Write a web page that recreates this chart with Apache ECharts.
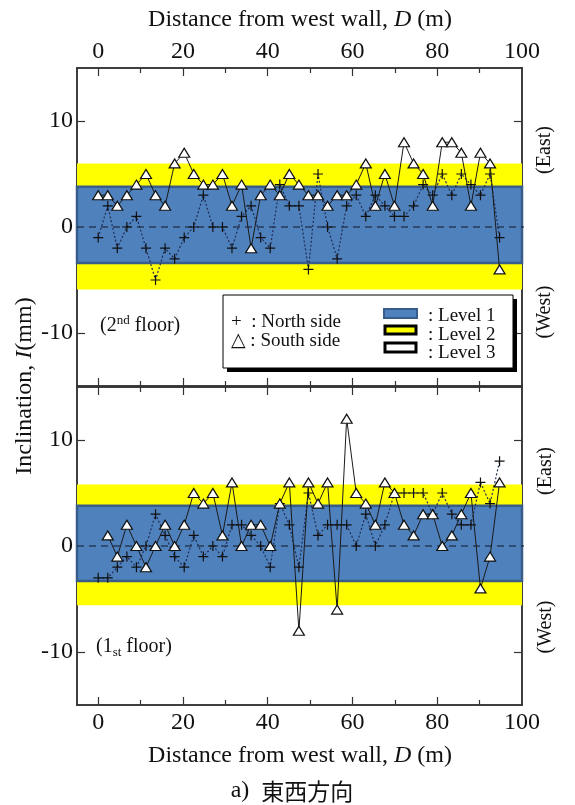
<!DOCTYPE html>
<html><head><meta charset="utf-8">
<script src="https://cdn.jsdelivr.net/npm/echarts@6/dist/echarts.min.js"></script>
<style>html,body{margin:0;padding:0;background:#fff}#c{width:575px;height:805px}</style>
</head><body><div id="c"></div>
<script>
// Distance from west wall D (m) of each measuring point
const distance = [0, 2.26, 4.51, 6.77, 9.02, 11.28, 13.53, 15.79, 18.04, 20.30, 22.55, 24.81, 27.06, 29.32,
  31.57, 33.83, 36.08, 38.34, 40.59, 42.85, 45.10, 47.36, 49.61, 51.87, 54.12, 56.38, 58.63, 60.89, 63.14,
  65.40, 67.65, 69.91, 72.16, 74.42, 76.67, 78.93, 81.18, 83.44, 85.69, 87.95, 90.20, 92.46, 94.71];
// 2nd floor inclination I (mm)
const north2F = [-1, 2, -2, 0, 1, -2, -5, -2, -3, -1, 0, 3, 0, 0, -2, 1, 2, -1, -2, 4, 2, 2, -4, 5, 0, -3, 2, 3, 1, 3, 2, 1, 1, 2, 4, 3, 5, 3, 5, 4, 3, 5, -1];
const south2F = [3, 3, 2, 3, 4, 5, 3, 2, 6, 7, 5, 4, 4, 5, 2, 4, -2, 3, 4, 3, 5, 4, 3, 3, 2, 3, 3, 4, 6, 2, 5, 2, 8, 6, 5, 2, 8, 8, 7, 2, 7, 6, -4];
// 1st floor inclination I (mm)
const north1F = [-3, -3, -2, -1, -2, 0, 3, 1, -1, -2, 1, -1, 0, -1, 2, 2, 1, 0, -2, 4, 2, -2, 5, 1, 2, 2, 2, 0, 3, 0, 2, 5, 5, 5, 5, 3, 5, 3, 2, 2, 6, 4, 8];
const south1F = [null, 1, -1, 2, 0, -2, 0, 2, 0, 2, 5, 4, 5, 1, 6, 0, 2, 2, 0, 4, 6, -8, 6, 4, 6, -6, 12, 5, 4, 2, 6, 5, 2, 1, 3, 3, 0, 1, 3, 5, -4, -1, 6];
// Level bands [lower, upper] (mm)
const level1_2F = [-3.4, 3.8], level2_2F = [-5.9, 6.0];
const level1_1F = [-3.3, 3.8], level2_1F = [-5.6, 5.8];
// reference (zero) line, extended past the frame on the right
const zeroLine = [[-5, 0], [108.5, 0]];
// ticks
const xLabelValues = [0, 20, 40, 60, 80, 100];
const xMajorTicks = [0, 20, 40, 60, 80];
const xMinorTicks = [10, 30, 50, 70, 90];
const yLabelValues = [-10, 0, 10];
const yMajorTicks = [-10, 0, 10];
const yMinorTicks = [-5, 5];

const SERIF = "'Liberation Serif', 'Times New Roman', 'DejaVu Serif', serif";
const AX = '#333';
const chart = echarts.init(document.getElementById('c'), null, {renderer: 'canvas'});

const grids = [
  {left: 77, top: 68, width: 445, height: 318},
  {left: 77, top: 387, width: 445, height: 318}
];
const xAxes = [], yAxes = [];
function xAx(g, pos, ticks, len, labels) {
  xAxes.push({type: 'value', gridIndex: g, position: pos, min: -5, max: 100,
    axisLine: {show: true, onZero: false, lineStyle: {color: AX, width: 1.5}},
    axisTick: {show: true, inside: true, length: len, customValues: ticks, lineStyle: {color: AX, width: 1.2}},
    axisLabel: labels ? {show: true, customValues: labels, fontFamily: SERIF, fontSize: 24, color: '#111', margin: pos === 'top' ? 4 : 6} : {show: false},
    splitLine: {show: false}});
  return xAxes.length - 1;
}
function yAx(g, pos, ticks, len, labels) {
  yAxes.push({type: 'value', gridIndex: g, position: pos, min: -15, max: 15,
    axisLine: {show: true, onZero: false, lineStyle: {color: AX, width: 1.5}},
    axisTick: {show: true, inside: true, length: len, customValues: ticks, lineStyle: {color: AX, width: 1.2}},
    axisLabel: labels ? {show: true, customValues: labels, fontFamily: SERIF, fontSize: 24, color: '#111', margin: 4} : {show: false},
    splitLine: {show: false}});
  return yAxes.length - 1;
}
const panels = [
  {north: north2F, south: south2F, l1: level1_2F, l2: level2_2F, topLabels: true, bottomLabels: false},
  {north: north1F, south: south1F, l1: level1_1F, l2: level2_1F, topLabels: false, bottomLabels: true}
];
const plusPath = 'path://M4.4,0H5.6V4.4H10V5.6H5.6V10H4.4V5.6H0V4.4H4.4Z';
const series = [];
panels.forEach((p, g) => {
  const xi = xAx(g, 'top', xMajorTicks, 8, p.topLabels ? xLabelValues : null);
  xAx(g, 'top', xMinorTicks, 5, null);
  xAx(g, 'bottom', xMajorTicks, 8, p.bottomLabels ? xLabelValues : null);
  xAx(g, 'bottom', xMinorTicks, 5, null);
  const yi = yAx(g, 'left', yMajorTicks, 8, yLabelValues);
  yAx(g, 'left', yMinorTicks, 5, null);
  yAx(g, 'right', yMajorTicks, 8, null);
  yAx(g, 'right', yMinorTicks, 5, null);
  series.push({type: 'line', xAxisIndex: xi, yAxisIndex: yi, data: [], z: 1, silent: true,
    markArea: {silent: true, data: [
      [{yAxis: p.l2[0], itemStyle: {color: '#FFFF00'}}, {yAxis: p.l2[1]}],
      [{yAxis: p.l1[0], itemStyle: {color: '#4F81BD', borderColor: '#385D8A', borderWidth: 2.5}}, {yAxis: p.l1[1]}]
    ]}});
  series.push({type: 'line', xAxisIndex: xi, yAxisIndex: yi, data: zeroLine, clip: false, symbol: 'none', silent: true, z: 3,
    lineStyle: {type: [7, 5], color: '#141826', width: 1.1}});
  series.push({type: 'line', xAxisIndex: xi, yAxisIndex: yi, z: 4,
    data: distance.map((d, i) => [d, p.north[i]]).filter(v => v[1] !== null),
    symbol: plusPath, symbolSize: 10, symbolKeepAspect: true,
    itemStyle: {color: '#111'}, lineStyle: {type: [2, 2], color: '#1f2d55', width: 1.2}});
  series.push({type: 'line', xAxisIndex: xi, yAxisIndex: yi, z: 5,
    data: distance.map((d, i) => [d, p.south[i]]).filter(v => v[1] !== null),
    symbol: 'triangle', symbolSize: [11, 9],
    itemStyle: {color: '#fff', borderColor: '#111', borderWidth: 1.2}, lineStyle: {color: '#1a1a1a', width: 1}});
});

const txt = (x, y, text, size, extra) => Object.assign({type: 'text', x, y, z: 10,
  style: Object.assign({text, fontFamily: SERIF, fontSize: size, fill: '#111', align: 'center', verticalAlign: 'middle'}, extra || {})});

const graphic = [
  txt(300, 20, '{n|Distance from west wall, }{i|D}{n| (m)}', 24, {rich: {n: {fontFamily: SERIF, fontSize: 24, fill: '#111'}, i: {fontFamily: SERIF, fontSize: 24, fontStyle: 'italic', fill: '#111'}}}),
  txt(300, 756, '{n|Distance from west wall, }{i|D}{n| (m)}', 24, {rich: {n: {fontFamily: SERIF, fontSize: 24, fill: '#111'}, i: {fontFamily: SERIF, fontSize: 24, fontStyle: 'italic', fill: '#111'}}}),
  txt(292, 791, '{a|a)  }{c|東西方向}', 24, {rich: {a: {fontFamily: SERIF, fontSize: 24, fill: '#111'}, c: {fontFamily: "'Noto Sans CJK JP', sans-serif", fontSize: 23, fill: '#111'}}}),
  Object.assign(txt(25, 386, '{n|Inclination, }{i|I}{n|(mm)}', 24, {rich: {n: {fontFamily: SERIF, fontSize: 24, fill: '#111'}, i: {fontFamily: SERIF, fontSize: 24, fontStyle: 'italic', fill: '#111'}}}), {rotation: Math.PI / 2}),
  Object.assign(txt(545, 150, '(East)', 20), {rotation: Math.PI / 2}),
  Object.assign(txt(545, 312, '(West)', 20), {rotation: Math.PI / 2}),
  Object.assign(txt(546, 471, '(East)', 20), {rotation: Math.PI / 2}),
  Object.assign(txt(546, 627, '(West)', 20), {rotation: Math.PI / 2}),
  txt(100, 326, '{n|(2}{s|nd}{n| floor)}', 20, {align: 'left', rich: {n: {fontFamily: SERIF, fontSize: 20, fill: '#111', lineHeight: 24}, s: {fontFamily: SERIF, fontSize: 13, fill: '#111', verticalAlign: 'top', lineHeight: 24}}}),
  txt(96, 647, '{n|(1}{s|st}{n| floor)}', 20, {align: 'left', rich: {n: {fontFamily: SERIF, fontSize: 20, fill: '#111', lineHeight: 24}, s: {fontFamily: SERIF, fontSize: 13, fill: '#111', verticalAlign: 'bottom', lineHeight: 24}}}),
  // legend
  {type: 'rect', z: 10, shape: {x: 227, y: 299, width: 290, height: 73}, style: {fill: '#000'}},
  {type: 'rect', z: 11, shape: {x: 223, y: 295, width: 290, height: 73}, style: {fill: '#fff', stroke: '#000', lineWidth: 1}},
  Object.assign(txt(231, 322, '+  : North side', 19, {align: 'left'}), {z: 12}),
  Object.assign(txt(231, 341, '△ : South side', 19, {align: 'left', fontFamily: "'Liberation Serif', 'DejaVu Serif', serif"}), {z: 12}),
  {type: 'rect', z: 12, shape: {x: 384, y: 309, width: 33, height: 9}, style: {fill: '#4F81BD', stroke: '#385D8A', lineWidth: 2}},
  {type: 'rect', z: 12, shape: {x: 385, y: 326, width: 31, height: 8}, style: {fill: '#FFFF00', stroke: '#000', lineWidth: 3}},
  {type: 'rect', z: 12, shape: {x: 385, y: 343, width: 31, height: 9}, style: {fill: '#fff', stroke: '#000', lineWidth: 3}},
  Object.assign(txt(428, 316, ': Level 1', 19, {align: 'left'}), {z: 12}),
  Object.assign(txt(428, 335, ': Level 2', 19, {align: 'left'}), {z: 12}),
  Object.assign(txt(428, 353, ': Level 3', 19, {align: 'left'}), {z: 12})
];

chart.setOption({
  animation: false,
  backgroundColor: '#fff',
  grid: grids,
  xAxis: xAxes,
  yAxis: yAxes,
  series: series,
  graphic: graphic
});
</script></body></html>
